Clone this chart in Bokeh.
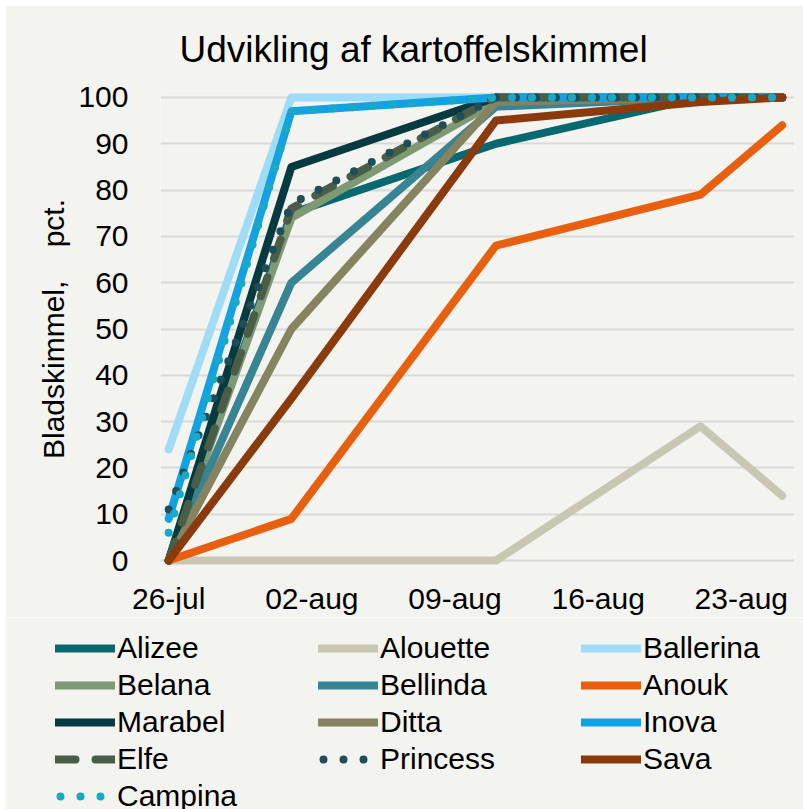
import pandas as pd
from bokeh.plotting import figure
from bokeh.layouts import column
from bokeh.models import Range1d, FixedTicker, Legend, LegendItem, Title
from bokeh.embed import file_html
from bokeh.resources import INLINE

# ---- data ----
dates = ["26-jul", "01-aug", "11-aug", "21-aug", "25-aug"]
tick_labels = ["26-jul", "02-aug", "09-aug", "16-aug", "23-aug"]
y_ticks = [0, 10, 20, 30, 40, 50, 60, 70, 80, 90, 100]

alizee = [0, 75, 90, 100, 100]
alouette = [0, 0, 0, 29, 14]
ballerina = [24, 100, 100, 100, 100]
belana = [0, 74, 99, 100, 100]
bellinda = [0, 60, 98, 100, 100]
anouk = [0, 9, 68, 79, 94]
marabel = [0, 85, 100, 100, 100]
ditta = [0, 50, 99, 100, 100]
inova = [9, 97, 100, 100, 100]
elfe = [0, 76, 100, 100, 100]
princess = [11, 77, 100, 100, 100]
sava = [0, 35, 95, 99, 100]
campina = [6, 97, 100, 100, 100]

series = [
    ("Alizee", alizee, "#086870", "solid"),
    ("Alouette", alouette, "#C8C7B1", "solid"),
    ("Ballerina", ballerina, "#9EDCF7", "solid"),
    ("Belana", belana, "#7E9A74", "solid"),
    ("Bellinda", bellinda, "#378494", "solid"),
    ("Anouk", anouk, "#E8600F", "solid"),
    ("Marabel", marabel, "#053B40", "solid"),
    ("Ditta", ditta, "#858360", "solid"),
    ("Inova", inova, "#12A2E3", "solid"),
    ("Elfe", elfe, "#4A5E47", "20 20"),
    ("Princess", princess, "#1F4E5A", "0 20"),
    ("Sava", sava, "#8B3A0E", "solid"),
    ("Campina", campina, "#18A9C6", "0 20"),
]

def to_day(s):
    return (pd.to_datetime(s + "-2023", format="%d-%b-%Y") - pd.Timestamp("2023-07-26")).days

xd = [to_day(d) for d in dates]
xt = [to_day(t) for t in tick_labels]

BG = "#F3F3EF"
FONT = "Liberation Sans"

# ---- main chart ----
p = figure(width=798, height=612, output_backend="svg", toolbar_location=None,
           x_range=Range1d(-0.4, 30.6), y_range=Range1d(-1.5, 101.5),
           min_border_left=155, min_border_right=9, min_border_top=84, min_border_bottom=50)
p.margin = (5, 0, 0, 5)
p.background_fill_color = BG
p.border_fill_color = BG
p.outline_line_color = None

p.title = Title(text="Udvikling af kartoffelskimmel", align="left", offset=19,
                text_font=FONT, text_font_size="37px", text_font_style="normal",
                text_color="#000000", standoff=42)

p.xaxis.ticker = FixedTicker(ticks=xt)
p.xaxis.major_label_overrides = {t: l for t, l in zip(xt, tick_labels)}
p.yaxis.ticker = FixedTicker(ticks=y_ticks)
for ax in (p.xaxis, p.yaxis):
    ax.axis_line_color = None
    ax.major_tick_line_color = None
    ax.minor_tick_line_color = None
    ax.major_label_text_font = FONT
    ax.major_label_text_font_size = "30px"
    ax.major_label_text_color = "#000000"
p.xaxis.major_label_standoff = 8
p.yaxis.major_label_standoff = 26
p.yaxis.axis_label = "Bladskimmel, \u00a0\u00a0\u00a0pct."
p.yaxis.axis_label_text_font = FONT
p.yaxis.axis_label_text_font_size = "30px"
p.yaxis.axis_label_text_font_style = "normal"
p.yaxis.axis_label_text_color = "#000000"
p.yaxis.axis_label_standoff = 5

p.xgrid.grid_line_color = None
p.ygrid.grid_line_color = "#D9D9D9"
p.ygrid.grid_line_width = 2

for name, vals, color, dash in series:
    p.line(xd, vals, line_color=color, line_width=8, line_dash=dash,
           line_cap="round", line_join="round")

# ---- legend panel (same series, drawn outside its visible range) ----
p2 = figure(width=798, height=192, output_backend="svg", toolbar_location=None,
            x_range=Range1d(1000, 1001), y_range=Range1d(1000, 1001),
            x_axis_type=None, y_axis_type=None, min_border=0)
p2.margin = (0, 0, 0, 5)
if "frame_align" in p2.properties():
    p2.frame_align = False
    p.frame_align = False
p2.background_fill_color = BG
p2.border_fill_color = BG
p2.outline_line_color = None
p2.xgrid.grid_line_color = None
p2.ygrid.grid_line_color = None

items = []
for name, vals, color, dash in series:
    offset = 15 if dash == "0 20" else 0
    r = p2.line(xd, vals, line_color=color, line_width=8, line_dash=dash,
                line_dash_offset=offset, line_cap="round", line_join="round")
    items.append(LegendItem(label=name, renderers=[r]))

legend = Legend(items=items, ncols=3, orientation="horizontal", location=(50, -4),
                label_text_font=FONT, label_text_font_size="30px", label_text_color="#000000",
                glyph_width=60, glyph_height=30, label_standoff=2, label_width=198,
                label_height=30, spacing=3, padding=0, margin=0,
                background_fill_alpha=0, border_line_color=None)
p2.add_layout(legend, "center")

layout = column(p, p2, spacing=0)
open("out.html", "w").write(file_html(layout, INLINE))
